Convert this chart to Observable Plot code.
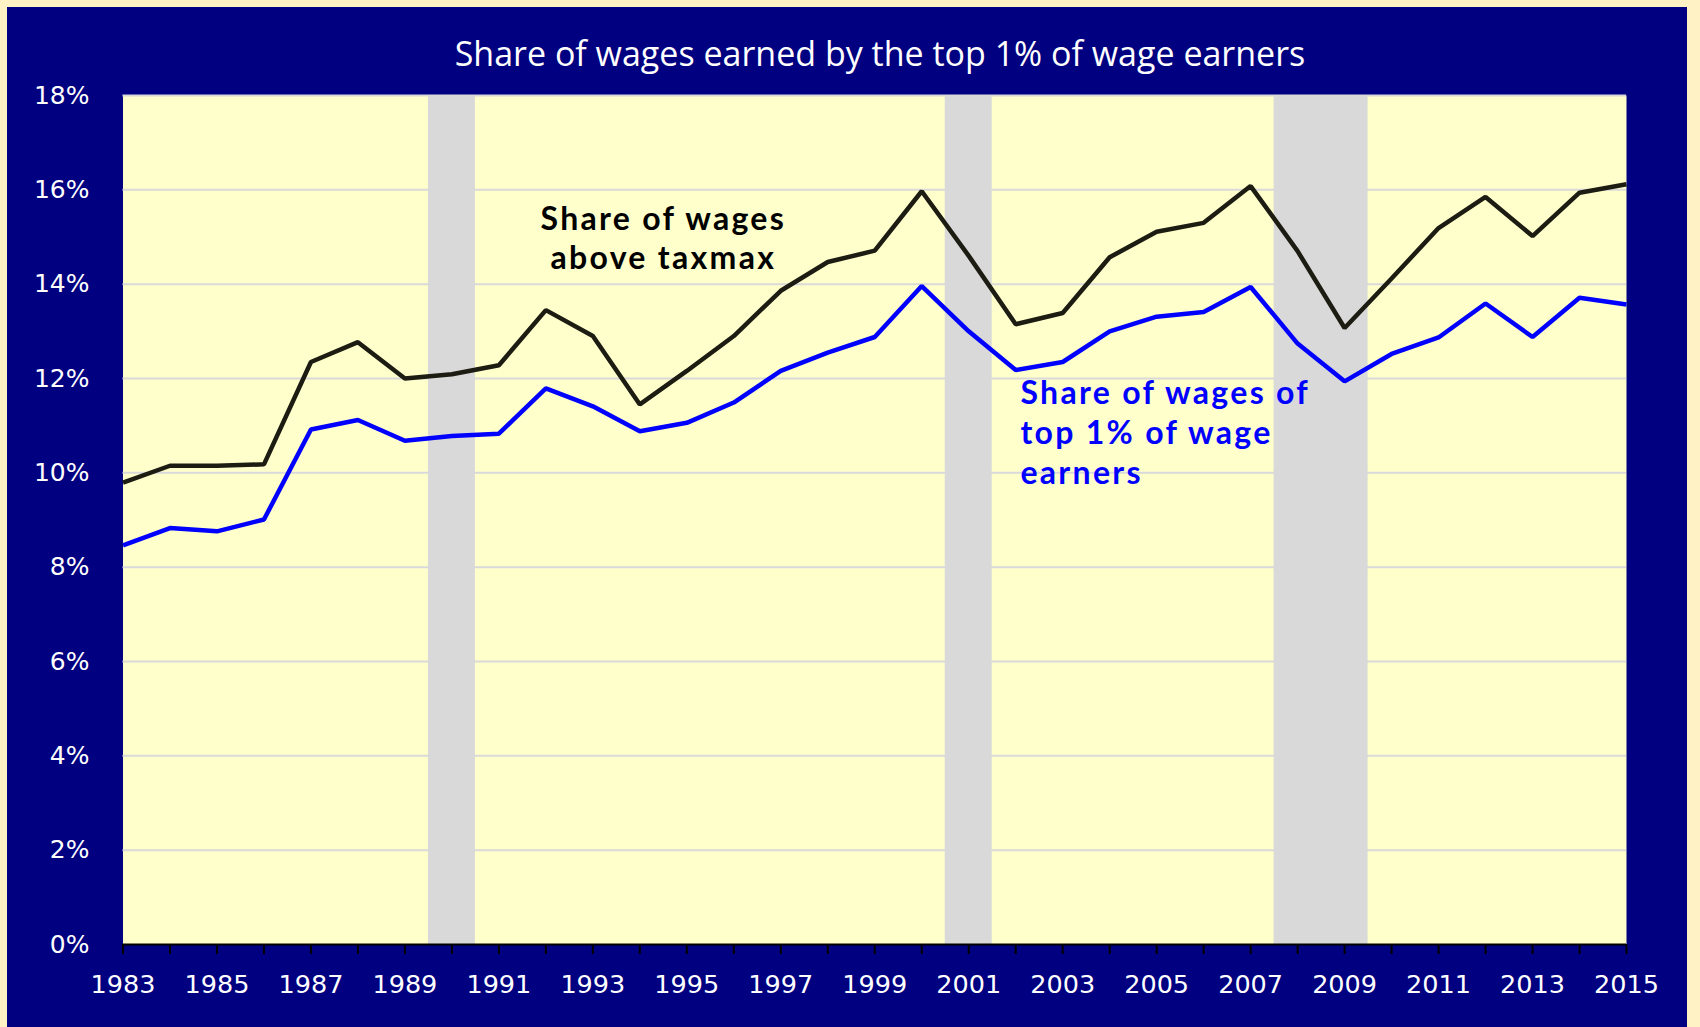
<!DOCTYPE html>
<html>
<head>
<meta charset="utf-8">
<script src="https://cdn.jsdelivr.net/npm/d3@7"></script>
<script src="https://cdn.jsdelivr.net/npm/@observablehq/plot@0.6"></script>
<style>
  html, body { margin: 0; padding: 0; background: #FFF2C4; width: 1700px; height: 1027px; overflow: hidden; }
  #wrap { position: absolute; left: 7px; top: 7px; width: 1680px; height: 1020px; background: #000080; }
  #title { box-sizing: border-box; height: 72px; padding-top: 31px; padding-left: 66px; line-height: 31px;
           color: #ffffff; font-family: "Open Sans", sans-serif; font-size: 34px; text-align: center; white-space: nowrap; }
  svg { display: block; }
  g[font-family^="Lato"] text { letter-spacing: 2.3px; }
</style>
</head>
<body>
<div id="wrap">
  <div id="title">Share of wages earned by the top 1% of wage earners</div>
  <div id="chart"></div>
</div>
<script>
const years = [1983,1984,1985,1986,1987,1988,1989,1990,1991,1992,1993,1994,1995,1996,1997,1998,1999,
               2000,2001,2002,2003,2004,2005,2006,2007,2008,2009,2010,2011,2012,2013,2014,2015];
const taxmaxShare = [9.79,10.15,10.15,10.18,12.35,12.77,12.0,12.09,12.28,13.45,12.90,11.45,12.16,12.90,13.86,14.47,14.71,
                     15.97,14.60,13.15,13.39,14.57,15.11,15.30,16.08,14.70,13.07,14.12,15.19,15.85,15.02,15.94,16.12];
const top1Share = [8.46,8.83,8.76,9.01,10.92,11.12,10.68,10.78,10.83,11.79,11.41,10.88,11.06,11.49,12.16,12.55,12.88,
                   13.96,13.0,12.18,12.35,13.0,13.31,13.41,13.94,12.74,11.94,12.52,12.87,13.59,12.88,13.71,13.57];
const recessionStart = [1989.5, 2000.5, 2007.5];
const recessionEnd = [1990.5, 2001.5, 2009.5];
const yTicks = [0,2,4,6,8,10,12,14,16,18];
const gridValues = [2,4,6,8,10,12,14,16,18];
const xLabelYears = [1983,1985,1987,1989,1991,1993,1995,1997,1999,2001,2003,2005,2007,2009,2011,2013,2015];
const blackLabelLines = ["Share of wages", "above taxmax"];
const blueLabelLines = ["Share of wages of", "top 1% of wage", "earners"];

const rows = years.map((year, i) => ({year, taxmax: taxmaxShare[i], top1: top1Share[i]}));
const recessions = recessionStart.map((s, i) => ({start: s, end: recessionEnd[i]}));

const plot = Plot.plot({
  width: 1680,
  height: 948,
  marginLeft: 115.5,
  marginRight: 61,
  marginTop: 16,
  marginBottom: 83,
  style: {background: "transparent", color: "white", fontFamily: "DejaVu Sans, sans-serif"},
  x: {domain: [1983, 2015]},
  y: {domain: [0, 18]},
  marks: [
    Plot.frame({fill: "#FFFFCC", stroke: null}),
    Plot.ruleY(gridValues, {stroke: "#D9D9D9", strokeWidth: 2}),
    Plot.rect(recessions, {x1: "start", x2: "end", fill: "#D9D9D9"}),
    Plot.ruleY([0], {stroke: "#000000", strokeWidth: 2}),
    Plot.axisY({ticks: yTicks, tickSize: 0, tickPadding: 33.5, tickFormat: d => d + "%",
                fontSize: 25, fill: "white", label: null}),
    Plot.axisX({ticks: years, tickSize: 10, stroke: "black", strokeWidth: 2, tickFormat: () => "", label: null}),
    Plot.axisX({ticks: xLabelYears, tickSize: 0, tickPadding: 30, tickFormat: d => String(d),
                fontSize: 25.5, fill: "white", label: null}),
    Plot.line(rows, {x: "year", y: "taxmax", stroke: "#1C1C12", strokeWidth: 4.5,
                     strokeLinejoin: "miter", strokeLinecap: "butt"}),
    Plot.line(rows, {x: "year", y: "top1", stroke: "#0000FF", strokeWidth: 4.5,
                     strokeLinejoin: "miter", strokeLinecap: "butt"}),
    Plot.text(blackLabelLines, {x: 1994.5, y: (d, i) => 15.37 - i * 0.83, text: d => d,
                     textAnchor: "middle", lineAnchor: "middle", fontSize: 32, fontWeight: "bold",
                     fill: "#000000", fontFamily: "Lato, sans-serif"}),
    Plot.text(blueLabelLines, {x: 2002.1, y: (d, i) => 11.68 - i * 0.85, text: d => d,
                     textAnchor: "start", lineAnchor: "middle", fontSize: 32, fontWeight: "bold",
                     fill: "#0000FF", fontFamily: "Lato, sans-serif"})
  ]
});
document.getElementById("chart").appendChild(plot);
</script>
</body>
</html>
